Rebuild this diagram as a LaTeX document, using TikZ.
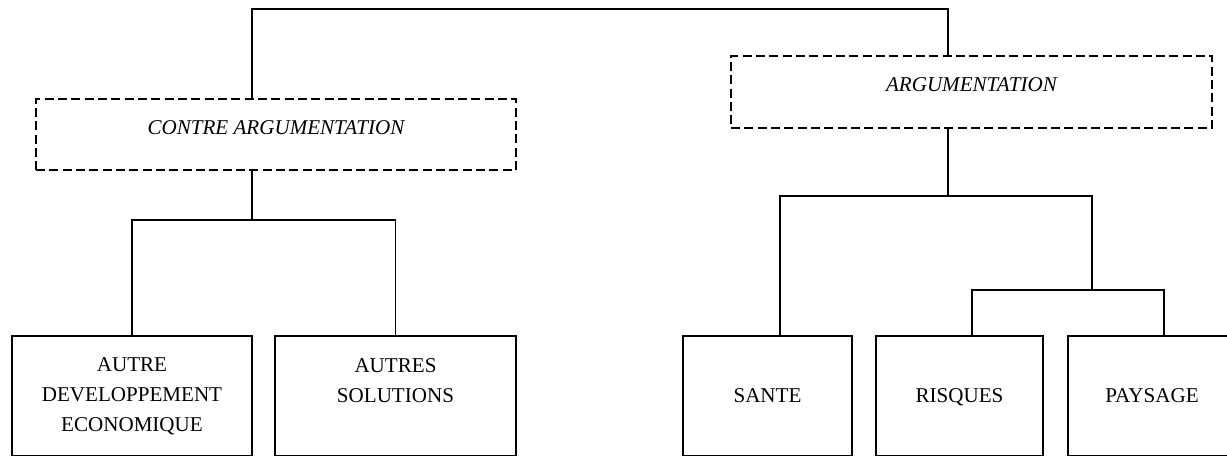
\documentclass[tikz,border=0pt]{standalone}
\usepackage{fontspec}
\setmainfont{Liberation Serif}
\begin{document}
\begin{tikzpicture}[x=0.75pt,y=-0.75pt,
  line width=1.4pt,
  every node/.style={inner sep=0pt,outer sep=0pt,align=center,
    font=\fontsize{15.8pt}{22.5pt}\selectfont},
  headbox/.style={draw,dash pattern=on 6.75pt off 3.25pt,
    text height=10.5pt,text depth=10.5pt,font=\fontsize{15.8pt}{22.5pt}\selectfont\itshape},
  leafbox/.style={draw,minimum height=89.6pt}]
\useasboundingbox (0,0) rectangle (1227,456);
\clip (0,0) rectangle (1227,456);
% head boxes
\node[headbox,minimum width=360pt,minimum height=53.25pt] (contre) at (276,134.5) {CONTRE ARGUMENTATION};
\node[headbox,minimum width=360.75pt,minimum height=54pt] (arg) at (971.5,92) {ARGUMENTATION};
% leaf boxes
\node[leafbox,minimum width=180pt] (autre) at (132,395.75) {AUTRE\\DEVELOPPEMENT\\ECONOMIQUE};
\node[leafbox,minimum width=180.75pt] (autres) at (395.5,395.75) {AUTRES\\SOLUTIONS\\~};
\node[leafbox,minimum width=126.75pt,text height=10.5pt,text depth=0pt] (sante) at (767.5,395.75) {SANTE};
\node[leafbox,minimum width=125.25pt,text height=10.5pt,text depth=0pt] (risques) at (959.5,395.75) {RISQUES};
\node[leafbox,minimum width=126pt,text height=10.5pt,text depth=0pt] (paysage) at (1152,395.75) {PAYSAGE};
% junction coordinates
\coordinate (jc) at (252,9);
\coordinate (ja) at (948,9);
\coordinate (c1) at (252,220);
\coordinate (a1) at (948,196);
\coordinate (s1) at (780,196);
\coordinate (r0) at (1092,196);
\coordinate (r1) at (1092,290);
\coordinate (ri) at (972,290);
\coordinate (pa) at (1164,290);
% connectors
\draw (contre.north -| jc) -- (jc) -- (ja) -- (arg.north -| ja);
\draw (contre.south -| c1) -- (c1);
\draw (autre.north) -- (autre.north |- c1) -- (autres.north |- c1) -- (autres.north);
\draw (arg.south -| a1) -- (a1);
\draw (sante.north -| s1) -- (s1) -- (r0) -- (r1);
\draw (risques.north -| ri) -- (ri) -- (pa) -- (paysage.north -| pa);
\end{tikzpicture}
\end{document}
